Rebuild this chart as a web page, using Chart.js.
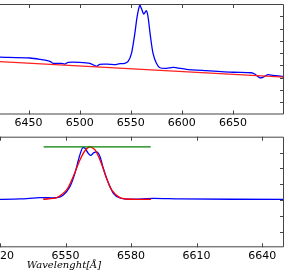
<!DOCTYPE html>
<html>
<head>
<meta charset="utf-8">
<script src="https://cdn.jsdelivr.net/npm/chart.js@4.4.0/dist/chart.umd.min.js"></script>
<style>
  html, body { margin: 0; padding: 0; background: #fff; overflow: hidden; width: 285px; height: 271px; }
  #top { position: absolute; left: -40px; top: 0; }
  #bottom { position: absolute; left: -176px; top: 128px; }
</style>
</head>
<body>
<canvas id="top" width="325" height="128"></canvas>
<canvas id="bottom" width="461" height="143"></canvas>
<script>
// top panel: full spectrum around H-alpha + continuum fit
const specWave = [6422, 6451.3, 6461, 6470.8, 6474, 6482, 6485.5, 6488.7, 6500, 6510, 6516.5, 6519.7, 6529.5, 6534.4, 6539.2, 6544, 6547.4, 6550.7, 6554, 6556.2, 6558.8, 6561, 6562.7, 6565.3, 6566.9, 6569.3, 6571.8, 6575.1, 6578.5, 6584.9, 6591.4, 6604.4, 6624, 6650, 6668, 6671.2, 6676, 6679.3, 6684.2, 6689, 6700];
const specFlux = [4.67, 4.60, 4.49, 4.33, 4.17, 4.17, 4.11, 4.25, 4.25, 4.17, 3.92, 4.09, 4.09, 4.06, 4.14, 4.17, 4.33, 4.98, 6.61, 7.96, 8.89, 8.51, 8.18, 8.45, 7.96, 6.34, 4.98, 4.17, 3.81, 3.76, 3.84, 3.68, 3.57, 3.44, 3.40, 3.30, 3.00, 3.03, 3.24, 3.19, 3.08];
const contWave = [6422, 6700];
const contFlux = [4.30, 3.05];
const topTicksX = [6450, 6500, 6550, 6600, 6650];
const topTicksY = [1, 2, 3, 4, 5, 6, 7, 8];

// bottom panel: continuum subtracted line + gaussian fit
const lineWave = [6518, 6529.2, 6538.3, 6546.0, 6549.0, 6552.0, 6554.3, 6556.3, 6557.8, 6558.9, 6560.4, 6561.5, 6563.0, 6564.5, 6565.8, 6567.3, 6569.1, 6571.9, 6574.9, 6579.5, 6590.2, 6602.4, 6650];
const lineFlux = [0.03, 0.06, 0.14, 0.14, 0.31, 0.84, 1.68, 2.73, 3.30, 3.27, 2.95, 2.82, 2.99, 3.03, 2.73, 2.00, 1.26, 0.42, 0.12, 0.04, 0.10, 0.06, 0.03];
const fitWave = [6539.8, 6546.0, 6550.5, 6553.5, 6556.6, 6558.9, 6561.2, 6563.5, 6566.1, 6568.5, 6571.1, 6574.9, 6579.5, 6589.1];
const fitFlux = [0.04, 0.14, 0.63, 1.47, 2.53, 3.11, 3.35, 3.16, 2.42, 1.47, 0.63, 0.14, 0.04, 0.04];
const peakWave = [6540, 6589];
const peakFlux = [3.35, 3.35];
const botTicksX = [6520, 6550, 6580, 6610, 6640];
const botTicksY = [-2, -1, 0, 1, 2, 3];

const pts = (xs, ys) => xs.map((x, i) => ({x: x, y: ys[i]}));

// matplotlib-like frame with inward ticks (left side is cropped away)
function framePlugin(xt, yt) {
    return {
        id: 'frame',
        afterDatasetsDraw(chart) {
            const {ctx, chartArea: a, scales: {x, y}} = chart;
            ctx.save();
            ctx.strokeStyle = '#444';
            ctx.lineWidth = 1;
            ctx.beginPath();
            ctx.moveTo(a.left, a.top + 0.5);
            ctx.lineTo(a.right - 0.5, a.top + 0.5);
            ctx.lineTo(a.right - 0.5, a.bottom - 0.5);
            ctx.lineTo(a.left, a.bottom - 0.5);
            xt.forEach(v => {
                const px = Math.round(x.getPixelForValue(v)) + 0.5;
                ctx.moveTo(px, a.top);
                ctx.lineTo(px, a.top + 4);
                ctx.moveTo(px, a.bottom);
                ctx.lineTo(px, a.bottom - 4);
            });
            yt.forEach(v => {
                const py = Math.round(y.getPixelForValue(v)) + 0.5;
                ctx.moveTo(a.right, py);
                ctx.lineTo(a.right - 4, py);
            });
            ctx.stroke();
            ctx.restore();
        }
    };
}

const lineDs = (label, data, color) => ({
    label: label,
    data: data,
    borderColor: color,
    borderWidth: 1.3,
    pointRadius: 0,
    tension: 0.25,
    fill: false
});

new Chart(document.getElementById('top'), {
    type: 'line',
    data: {
        datasets: [
            lineDs('continuum', pts(contWave, contFlux), '#ff2020'),
            lineDs('spectrum', pts(specWave, specFlux), '#0000ff')
        ]
    },
    options: {
        responsive: false,
        animation: false,
        layout: { padding: { left: 40, right: 1, top: 4, bottom: 0 } },
        plugins: { legend: { display: false }, tooltip: { enabled: false } },
        scales: {
            x: {
                type: 'linear',
                min: 6422,
                max: 6700,
                grid: { display: false, drawTicks: false },
                border: { display: false },
                afterBuildTicks: s => { s.ticks = topTicksX.map(v => ({value: v})); },
                afterFit: s => { s.height = 13.5; },
                ticks: {
                    autoSkip: false,
                    maxRotation: 0,
                    padding: 2,
                    color: '#000',
                    font: { family: 'DejaVu Sans', size: 11 },
                    callback: v => String(v)
                }
            },
            y: { display: false, min: 0, max: 9 }
        }
    },
    plugins: [framePlugin(topTicksX, topTicksY)]
});

new Chart(document.getElementById('bottom'), {
    type: 'line',
    data: {
        datasets: [
            lineDs('level', pts(peakWave, peakFlux), '#008000'),
            lineDs('fit', pts(fitWave, fitFlux), '#ff0000'),
            lineDs('line', pts(lineWave, lineFlux), '#0000ff')
        ]
    },
    options: {
        responsive: false,
        animation: false,
        layout: { padding: { left: 20, right: 1, top: 8.7, bottom: 0 } },
        plugins: { legend: { display: false }, tooltip: { enabled: false } },
        scales: {
            x: {
                type: 'linear',
                min: 6448.6,
                max: 6650,
                grid: { display: false, drawTicks: false },
                border: { display: false },
                afterBuildTicks: s => { s.ticks = botTicksX.map(v => ({value: v})); },
                afterFit: s => { s.height = 23.7; },
                title: {
                    display: true,
                    text: 'Wavelenght[Å]',
                    color: '#000',
                    padding: { top: 0, bottom: 0 },
                    font: { family: 'DejaVu Serif', style: 'italic', size: 10 }
                },
                ticks: {
                    autoSkip: false,
                    maxRotation: 0,
                    padding: 2,
                    color: '#000',
                    font: { family: 'DejaVu Sans', size: 11 },
                    callback: v => String(v)
                }
            },
            y: { display: false, min: -3, max: 4 }
        }
    },
    plugins: [framePlugin(botTicksX, botTicksY)]
});
</script>
</body>
</html>
